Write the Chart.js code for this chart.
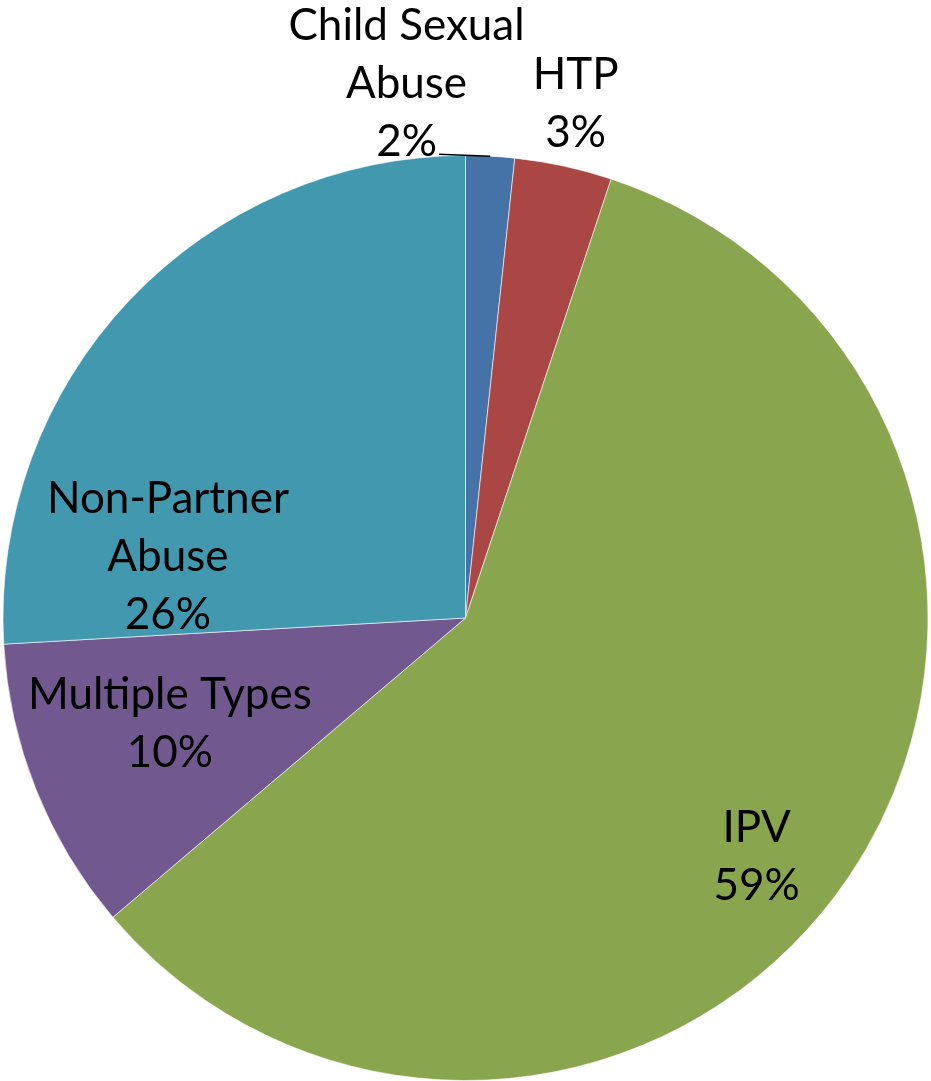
<!DOCTYPE html>
<html>
<head>
<meta charset="utf-8">
<script src="https://cdn.jsdelivr.net/npm/chart.js@4/dist/chart.umd.min.js"></script>
<style>
  html, body { margin: 0; padding: 0; background: #ffffff; }
  #wrap { width: 931px; height: 1081px; }
</style>
</head>
<body>
<div id="wrap"><canvas id="c" width="931" height="1081"></canvas></div>
<script>
// ---- data ----
const categories = ["Child Sexual Abuse", "HTP", "IPV", "Multiple Types", "Non-Partner Abuse"];
const labelLines = [["Child Sexual", "Abuse"], ["HTP"], ["IPV"], ["Multiple Types"], ["Non-Partner", "Abuse"]];
const shares = [1.7, 3.4, 58.7, 10.3, 25.9];
const sliceColors = ["#4572A7", "#AA4643", "#89A54E", "#71588F", "#4198AF"];

// label placement: [angle in degrees clockwise from 12 o'clock, radius factor]
const labelPlacement = [[353.7, 1.162], [12.1, 1.137], [129.35, 0.814], [250.3, 0.679], [281.7, 0.657]];

const FONT_FAMILY = "Lato, 'Open Sans', sans-serif";
const FONT_SIZE = 44;
const LINE_H = 58;

const labelPlugin = {
  id: 'sliceLabels',
  afterDatasetsDraw(chart) {
    const ctx = chart.ctx;
    const meta = chart.getDatasetMeta(0);
    const total = shares.reduce((a, b) => a + b, 0);
    ctx.save();
    ctx.font = FONT_SIZE + 'px ' + FONT_FAMILY;
    ctx.fillStyle = '#000000';
    ctx.textAlign = 'center';
    ctx.textBaseline = 'middle';
    meta.data.forEach((arc, i) => {
      const p = arc.getProps(['x', 'y', 'outerRadius', 'startAngle', 'endAngle'], true);
      const [deg, rf] = labelPlacement[i];
      const a = (deg - 90) * Math.PI / 180;
      const cx = p.x + Math.cos(a) * p.outerRadius * rf;
      const cy = p.y + Math.sin(a) * p.outerRadius * rf;
      const lines = labelLines[i].concat([Math.round(shares[i] / total * 100) + '%']);
      const top = cy - (lines.length - 1) * LINE_H / 2;
      lines.forEach((t, k) => ctx.fillText(t, cx, top + k * LINE_H));
      if (i === 0) {
        // leader line from label to slice edge
        const mid = (p.startAngle + p.endAngle) / 2;
        const ex = p.x + Math.cos(mid) * p.outerRadius;
        const ey = p.y + Math.sin(mid) * p.outerRadius;
        ctx.beginPath();
        ctx.strokeStyle = '#000000';
        ctx.lineWidth = 1.5;
        ctx.moveTo(ex - 51, ey - 2);
        ctx.lineTo(ex, ey);
        ctx.stroke();
      }
    });
    ctx.restore();
  }
};

new Chart(document.getElementById('c'), {
  type: 'pie',
  data: {
    labels: categories,
    datasets: [{
      data: shares,
      backgroundColor: sliceColors,
      borderColor: 'rgba(255,255,255,0.6)',
      borderWidth: 1
    }]
  },
  options: {
    responsive: false,
    animation: false,
    layout: { padding: { top: 155, bottom: 0, left: 0, right: 0 } },
    plugins: { legend: { display: false }, tooltip: { enabled: false } }
  },
  plugins: [labelPlugin]
});
</script>
</body>
</html>
